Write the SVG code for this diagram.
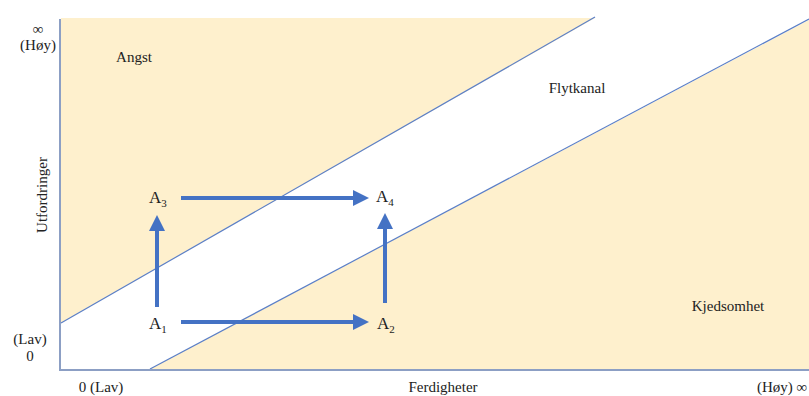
<svg xmlns="http://www.w3.org/2000/svg" width="809" height="396" viewBox="0 0 809 396">
<defs>
<style>
.t{font-family:"Liberation Serif","Times New Roman",serif;font-size:15px;fill:#222;}
.a{font-family:"Liberation Serif","Times New Roman",serif;font-size:17px;fill:#222;}
.s{font-size:11px;}
.fill{fill:#FEF0CD;stroke:none;}
.bl{stroke:#5B7FC7;stroke-width:1.2;fill:none;}
.ax{stroke:#8C9FC4;stroke-width:2;fill:none;}
.ar{stroke:#4472C4;stroke-width:4;fill:none;}
</style>
<marker id="h" markerWidth="5" markerHeight="4" refX="0" refY="2" orient="auto" markerUnits="strokeWidth">
<path d="M0,0 L4,2 L0,4 Z" fill="#4472C4"/>
</marker>
</defs>
<rect width="809" height="396" fill="#fff"/>
<g id="zones">
<polygon class="fill" points="61,18 595,18 61,323"/>
<polygon class="fill" points="150,369 809,20 809,369"/>
<line class="bl" x1="61" y1="323" x2="595" y2="17"/>
<line class="bl" x1="150" y1="369" x2="809" y2="19"/>
</g>
<g id="axes">
<line class="ax" x1="60" y1="19" x2="60" y2="370"/>
<line class="ax" x1="59" y1="370" x2="809" y2="370"/>
</g>
<g id="labels">
<text class="t" x="38" y="34" text-anchor="middle">∞</text>
<text class="t" x="38" y="50" text-anchor="middle">(Høy)</text>
<text class="t" x="30" y="344" text-anchor="middle">(Lav)</text>
<text class="t" x="30" y="361" text-anchor="middle">0</text>
<text class="t" x="101" y="392" text-anchor="middle">0 (Lav)</text>
<text class="t" x="443" y="392" text-anchor="middle">Ferdigheter</text>
<text class="t" x="757" y="392">(Høy) ∞</text>
<text class="t" transform="translate(47,195) rotate(-90)" text-anchor="middle">Utfordringer</text>
<text class="t" x="134" y="62" text-anchor="middle">Angst</text>
<text class="t" x="577" y="93" text-anchor="middle">Flytkanal</text>
<text class="t" x="728" y="311" text-anchor="middle">Kjedsomhet</text>
</g>
<g id="A1"><text class="a" x="149" y="329">A<tspan class="s" dy="4">1</tspan></text></g>
<g id="A2"><text class="a" x="377" y="329">A<tspan class="s" dy="4">2</tspan></text></g>
<g id="A3"><text class="a" x="149" y="203">A<tspan class="s" dy="4">3</tspan></text></g>
<g id="A4"><text class="a" x="376" y="202">A<tspan class="s" dy="4">4</tspan></text></g>
<g id="connectors">
<line class="ar" x1="181" y1="322" x2="353" y2="322" marker-end="url(#h)"/>
<line class="ar" x1="181" y1="198" x2="353" y2="198" marker-end="url(#h)"/>
<line class="ar" x1="157" y1="307" x2="157" y2="231" marker-end="url(#h)"/>
<line class="ar" x1="385" y1="303" x2="385" y2="229" marker-end="url(#h)"/>
</g>
</svg>
